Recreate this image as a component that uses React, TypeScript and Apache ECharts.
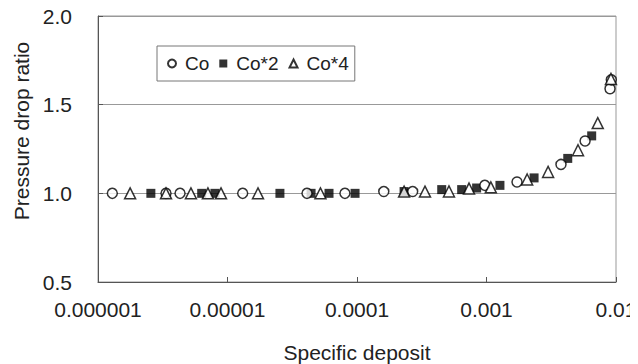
import React, { useEffect, useRef } from "react";
import * as echarts from "echarts";

const xTickLabels = ["0.000001", "0.00001", "0.0001", "0.001", "0.01"];
const seriesNames = ["Co", "Co*2", "Co*4"];

const coX = [1.29e-6, 3.35e-6, 4.3e-6, 1.31e-5, 4.11e-5, 8.07e-5, 1.61e-4, 2.69e-4, 9.7e-4, 1.72e-3, 3.76e-3, 5.77e-3, 8.99e-3, 9.2e-3];
const coY = [1.0, 1.0, 1.0, 1.0, 1.0, 1.0, 1.01, 1.01, 1.045, 1.064, 1.163, 1.295, 1.59, 1.64];

const co2X = [2.56e-6, 6.32e-6, 8.0e-6, 2.54e-5, 4.42e-5, 6.08e-5, 9.66e-5, 2.31e-4, 4.51e-4, 6.43e-4, 8.39e-4, 1.27e-3, 2.33e-3, 4.24e-3, 6.49e-3];
const co2Y = [1.0, 1.0, 1.0, 1.0, 1.0, 1.0, 1.0, 1.01, 1.021, 1.021, 1.03, 1.045, 1.087, 1.197, 1.324];

const co4X = [1.77e-6, 3.35e-6, 5.22e-6, 7.06e-6, 8.91e-6, 1.72e-5, 5.22e-5, 2.31e-4, 3.35e-4, 5.13e-4, 7.33e-4, 1.08e-3, 2.06e-3, 2.99e-3, 5.09e-3, 7.23e-3, 9.14e-3];
const co4Y = [1.0, 1.0, 1.0, 1.0, 1.0, 1.0, 1.0, 1.01, 1.01, 1.011, 1.027, 1.034, 1.078, 1.121, 1.243, 1.396, 1.645];

const zip = (xs: number[], ys: number[]) => xs.map((x, i) => [x, ys[i]]);

const FONT = "Liberation Sans, Arial, sans-serif";
const TXT = "#222";

export default function App() {
  const ref = useRef<HTMLDivElement>(null);
  useEffect(() => {
    if (!ref.current) return;
    const chart = echarts.init(ref.current, null, { renderer: "svg" });
    chart.setOption({
      animation: false,
      backgroundColor: "#fff",
      textStyle: { fontFamily: FONT },
      grid: {
        left: 98,
        right: 22,
        top: 16,
        bottom: 82,
        containLabel: false,
        outerBoundsMode: "none",
        show: true,
        borderColor: "#999",
        borderWidth: 1,
        backgroundColor: "transparent",
      },
      legend: {
        left: 157,
        top: 46,
        orient: "horizontal",
        backgroundColor: "#fff",
        borderColor: "#777",
        borderWidth: 1,
        borderRadius: 0,
        padding: [8, 6, 8, 10],
        itemWidth: 8,
        itemHeight: 8,
        itemGap: 10,
        textStyle: { fontSize: 19, color: TXT, fontFamily: FONT, padding: [0, 0, 0, 4] },
        data: seriesNames,
      },
      xAxis: {
        type: "log",
        logBase: 10,
        min: 0.000001,
        max: 0.01,
        name: "Specific deposit",
        nameLocation: "middle",
        nameGap: 60,
        nameTextStyle: { fontSize: 21, color: TXT, fontFamily: FONT },
        axisLine: { show: true, onZero: false, lineStyle: { color: "#555", width: 1 } },
        axisTick: { show: true, inside: true, length: 5, lineStyle: { color: "#555" } },
        axisLabel: {
          fontSize: 21,
          color: TXT,
          margin: 17,
          fontFamily: FONT,
          formatter: (v: number) => {
            const i = Math.round(Math.log10(v)) + 6;
            return xTickLabels[i] ?? "";
          },
        },
        splitLine: { show: false },
        minorTick: { show: false },
      },
      yAxis: {
        type: "value",
        min: 0.5,
        max: 2.0,
        interval: 0.5,
        name: "Pressure drop ratio",
        nameLocation: "middle",
        nameGap: 62,
        nameTextStyle: { fontSize: 21, color: TXT, fontFamily: FONT, padding: [0, 0, 0, 36] },
        axisLine: { show: true, lineStyle: { color: "#555", width: 1 } },
        axisTick: { show: true, inside: true, length: 5, lineStyle: { color: "#555" } },
        axisLabel: {
          fontSize: 21,
          color: TXT,
          margin: 26,
          fontFamily: FONT,
          formatter: (v: number) => v.toFixed(1),
        },
        splitLine: { show: true, lineStyle: { color: "#999", width: 1 } },
      },
      series: [
        {
          name: seriesNames[0],
          type: "scatter",
          symbol: "circle",
          symbolSize: 10,
          itemStyle: { color: "#fff", borderColor: "#000", borderWidth: 1.5 },
          data: zip(coX, coY),
          z: 3,
        },
        {
          name: seriesNames[1],
          type: "scatter",
          symbol: "rect",
          symbolSize: 9,
          itemStyle: { color: "#000", borderColor: "#000", borderWidth: 0 },
          data: zip(co2X, co2Y),
          z: 2,
        },
        {
          name: seriesNames[2],
          type: "scatter",
          symbol: "triangle",
          symbolSize: 11,
          itemStyle: { color: "#fff", borderColor: "#000", borderWidth: 1.5 },
          data: zip(co4X, co4Y),
          z: 4,
        },
      ],
    });
    return () => chart.dispose();
  }, []);
  return <div ref={ref} style={{ width: 638, height: 364, marginLeft: -8, marginTop: -8 }} />;
}
